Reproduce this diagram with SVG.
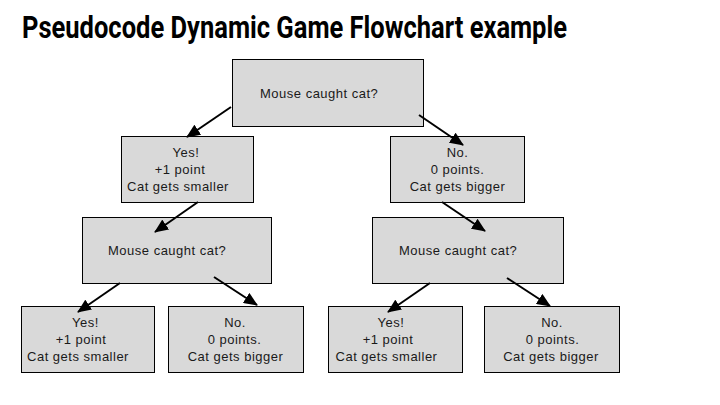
<svg xmlns="http://www.w3.org/2000/svg" width="720" height="405" viewBox="0 0 720 405">
<defs>
<marker id="ah" markerUnits="userSpaceOnUse" markerWidth="14" markerHeight="12" refX="13" refY="6" orient="auto">
<path d="M0,0 L14,6 L0,12 z" fill="#000"/>
</marker>
<style>
.box{fill:#d9d9d9;stroke:#000;stroke-width:1}
.t{font-family:"Liberation Sans",Arial,sans-serif;font-size:13px;letter-spacing:0.5px;fill:#1a1a1a}
.m{text-anchor:middle}
.c{stroke:#000;stroke-width:2;fill:none;marker-end:url(#ah)}
.title{font-family:Roboto,"DejaVu Sans",sans-serif;font-weight:bold;font-size:31px;fill:#000}
</style>
</defs>
<rect width="720" height="405" fill="#fff"/>
<text class="title" x="22" y="38" textLength="545" lengthAdjust="spacingAndGlyphs">Pseudocode Dynamic Game Flowchart example</text>
<g id="q1">
<rect class="box" x="232.5" y="59.5" width="191" height="67"/>
<text class="t" x="260" y="98">Mouse caught cat?</text>
</g>
<g id="yes1">
<rect class="box" x="121.5" y="136.5" width="132" height="66"/>
<text class="t m" x="186" y="157">Yes!</text>
<text class="t m" x="180" y="174">+1 point</text>
<text class="t m" x="178" y="191">Cat gets smaller</text>
</g>
<g id="no1">
<rect class="box" x="390.5" y="136.5" width="134" height="66"/>
<text class="t m" x="457.5" y="157">No.</text>
<text class="t m" x="457.5" y="174">0 points.</text>
<text class="t m" x="457.5" y="191">Cat gets bigger</text>
</g>
<g id="q2">
<rect class="box" x="82.5" y="217.5" width="189" height="66"/>
<text class="t" x="108" y="255">Mouse caught cat?</text>
</g>
<g id="q3">
<rect class="box" x="372.5" y="217.5" width="191" height="66"/>
<text class="t" x="399" y="255">Mouse caught cat?</text>
</g>
<g id="yes2">
<rect class="box" x="21.5" y="306.5" width="133" height="66"/>
<text class="t m" x="85.5" y="327">Yes!</text>
<text class="t m" x="81" y="344">+1 point</text>
<text class="t m" x="78" y="361">Cat gets smaller</text>
</g>
<g id="no2">
<rect class="box" x="168.5" y="306.5" width="135" height="66"/>
<text class="t m" x="235" y="327">No.</text>
<text class="t m" x="234.5" y="344">0 points.</text>
<text class="t m" x="235.5" y="361">Cat gets bigger</text>
</g>
<g id="yes3">
<rect class="box" x="328.5" y="306.5" width="134" height="66"/>
<text class="t m" x="391" y="327">Yes!</text>
<text class="t m" x="388" y="344">+1 point</text>
<text class="t m" x="386.5" y="361">Cat gets smaller</text>
</g>
<g id="no3">
<rect class="box" x="484.5" y="306.5" width="135" height="66"/>
<text class="t m" x="552" y="327">No.</text>
<text class="t m" x="552.5" y="344">0 points.</text>
<text class="t m" x="551" y="361">Cat gets bigger</text>
</g>
<g id="connectors">
<line class="c" x1="231" y1="107" x2="187" y2="137"/>
<line class="c" x1="419" y1="115" x2="463" y2="145"/>
<line class="c" x1="198" y1="202" x2="155" y2="232"/>
<line class="c" x1="442" y1="202" x2="485" y2="231"/>
<line class="c" x1="120" y1="283" x2="78" y2="312"/>
<line class="c" x1="214" y1="277" x2="257" y2="305"/>
<line class="c" x1="430" y1="283" x2="388" y2="312"/>
<line class="c" x1="507" y1="278" x2="550" y2="306"/>
</g>
</svg>
